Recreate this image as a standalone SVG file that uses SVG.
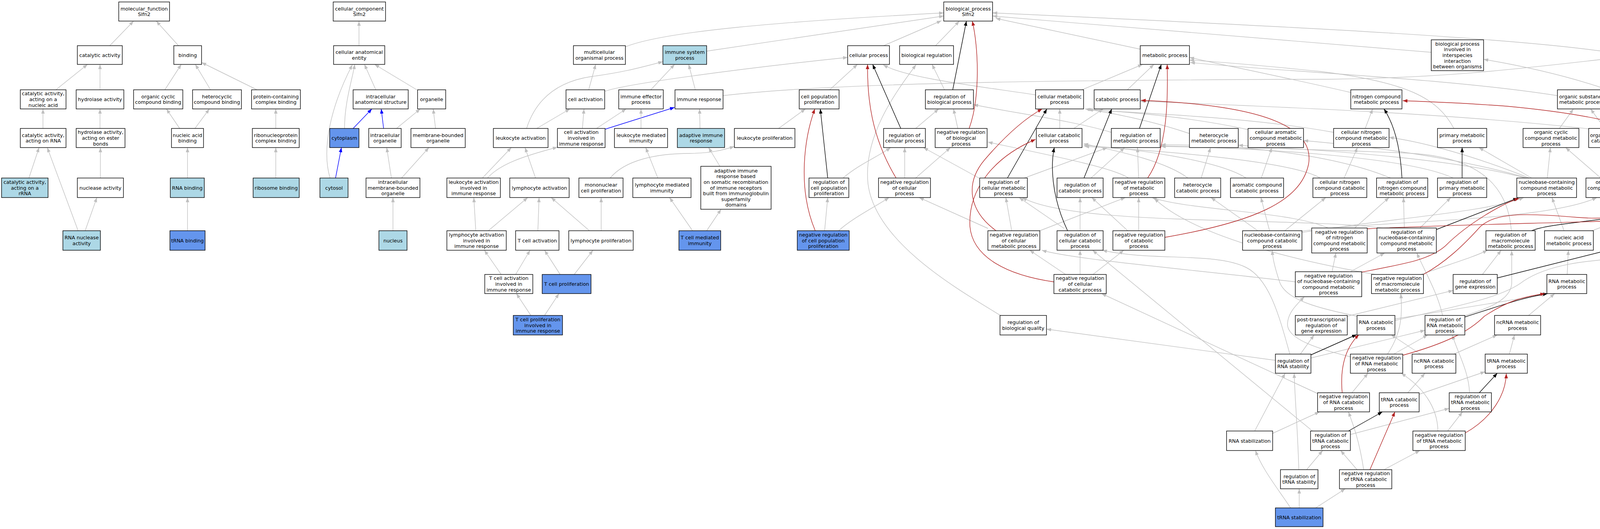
<svg xmlns="http://www.w3.org/2000/svg" width="4627" height="1355" viewBox="0 0 4627 1355">
<style>
.n rect{fill:#ffffff;stroke:#000;stroke-width:1.4}
.lb rect{fill:#add8e6}
.bl rect{fill:#6495ed}
text{font-family:"DejaVu Sans","Liberation Sans",sans-serif;font-size:12.7px;text-anchor:middle;fill:#000}
#edges path{fill:none;stroke-width:1.4}
#edges .g{stroke:#c0c0c0;marker-end:url(#ag)}
#edges .k{stroke:#000;marker-end:url(#ak)}
#edges .r{stroke:#b22222;marker-end:url(#ar)}
#edges .b{stroke:#0000ff;marker-end:url(#ab)}
</style>
<defs>
<marker id="ag" markerUnits="userSpaceOnUse" markerWidth="14" markerHeight="10" refX="12" refY="4.5" orient="auto"><path d="M0,0 L12,4.5 L0,9 z" fill="#c0c0c0"/></marker>
<marker id="ak" markerUnits="userSpaceOnUse" markerWidth="14" markerHeight="10" refX="12" refY="4.5" orient="auto"><path d="M0,0 L12,4.5 L0,9 z" fill="#000"/></marker>
<marker id="ar" markerUnits="userSpaceOnUse" markerWidth="14" markerHeight="10" refX="12" refY="4.5" orient="auto"><path d="M0,0 L12,4.5 L0,9 z" fill="#b22222"/></marker>
<marker id="ab" markerUnits="userSpaceOnUse" markerWidth="14" markerHeight="10" refX="12" refY="4.5" orient="auto"><path d="M0,0 L12,4.5 L0,9 z" fill="#0000ff"/></marker>
</defs>
<rect x="0" y="0" width="4627" height="1355" fill="#ffffff"/>
<g id="edges">
<path class="g" d="M281,117 L342,54"/>
<path class="g" d="M457,117 L400,54"/>
<path class="g" d="M143,230 L224,165"/>
<path class="g" d="M256,230 L256,165"/>
<path class="g" d="M422,230 L464,165"/>
<path class="g" d="M539,230 L500,165"/>
<path class="g" d="M658,230 L516,160"/>
<path class="g" d="M110,329 L110,279"/>
<path class="g" d="M256,329 L256,279"/>
<path class="g" d="M460,329 L426,279"/>
<path class="g" d="M499,329 L536,279"/>
<path class="g" d="M706,329 L706,279"/>
<path class="g" d="M74,456 L100,378"/>
<path class="g" d="M257,456 L257,378"/>
<path class="g" d="M480,456 L480,378"/>
<path class="g" d="M706,456 L706,378"/>
<path class="g" d="M200,591 L121,378"/>
<path class="g" d="M218,591 L248,506"/>
<path class="g" d="M480,591 L480,506"/>
<path class="g" d="M919,117 L919,54"/>
<path class="g" d="M962,230 L933,165"/>
<path class="g" d="M1067,230 L959,165"/>
<path class="g" d="M882,329 C882,260 903,200 908,165"/>
<path class="g" d="M845,456 C822,380 848,270 902,166"/>
<path class="g" d="M1015,329 L1076,279"/>
<path class="g" d="M1115,329 L1109,279"/>
<path class="g" d="M1002,456 L990,378"/>
<path class="g" d="M1028,456 L1098,378"/>
<path class="g" d="M1006,591 L1006,506"/>
<path class="b" d="M904,329 L952,279"/>
<path class="b" d="M982,329 L976,279"/>
<path class="b" d="M859,456 L874,378"/>
<path class="b" d="M1549,331 L1727,275"/>
<path class="g" d="M1601,120 C1700,80 2000,55 2416,33"/>
<path class="g" d="M1809,131 L2416,41"/>
<path class="g" d="M1507,230 L1525,165"/>
<path class="g" d="M1548,234 C1600,215 1900,175 2170,147"/>
<path class="g" d="M1348,329 C1370,260 1420,210 1514,196 C1600,185 1650,170 1697,158"/>
<path class="g" d="M1666,230 L1727,165"/>
<path class="g" d="M1780,230 L1763,165"/>
<path class="g" d="M1851,245 C2100,215 2600,205 3400,203 C3700,200 3900,175 4120,150"/>
<path class="g" d="M2124,230 L2195,165"/>
<path class="g" d="M1374,329 L1459,279"/>
<path class="g" d="M1491,329 L1495,279"/>
<path class="g" d="M1527,329 L1603,279"/>
<path class="g" d="M1641,329 L1641,279"/>
<path class="g" d="M1792,329 L1791,279"/>
<path class="g" d="M1993,329 L2062,279"/>
<path class="g" d="M1235,456 L1309,378"/>
<path class="g" d="M1248,456 C1280,420 1340,400 1427,377"/>
<path class="g" d="M1371,456 L1344,378"/>
<path class="g" d="M1562,456 C1600,410 1680,393 1766,393 C1820,392 1850,385 1880,375"/>
<path class="g" d="M1684,456 L1653,378"/>
<path class="g" d="M1843,426 L1814,378"/>
<path class="g" d="M1218,591 L1213,506"/>
<path class="g" d="M1250,591 L1351,506"/>
<path class="g" d="M1377,591 L1380,506"/>
<path class="g" d="M1509,591 L1411,506"/>
<path class="g" d="M1539,591 L1539,506"/>
<path class="g" d="M1773,591 L1714,506"/>
<path class="g" d="M1809,591 L1846,536"/>
<path class="g" d="M1283,703 L1240,641"/>
<path class="g" d="M1320,703 L1357,641"/>
<path class="g" d="M1434,703 L1394,641"/>
<path class="g" d="M1470,703 L1518,641"/>
<path class="g" d="M1359,808 L1322,752"/>
<path class="g" d="M1394,808 L1431,752"/>
<path class="g" d="M2262,117 L2410,53"/>
<path class="g" d="M2395,117 L2456,54"/>
<path class="g" d="M2919,126 L2549,47"/>
<path class="g" d="M4120,134 C3900,100 3400,72 2541,33"/>
<path class="g" d="M3664,134 C3500,120 3000,80 2541,41"/>
<path class="g" d="M2418,230 L2386,165"/>
<path class="g" d="M2452,329 L2441,279"/>
<path class="g" d="M2344,329 L2403,279"/>
<path class="g" d="M2316,456 L2316,378"/>
<path class="g" d="M2344,456 L2433,378"/>
<path class="g" d="M2158,456 C2200,420 2250,400 2280,378"/>
<path class="g" d="M2111,591 L2119,506"/>
<path class="g" d="M2147,591 C2180,560 2240,530 2276,506"/>
<path class="g" d="M2651,243 C2500,220 2320,200 2261,166"/>
<path class="g" d="M2770,230 L2925,165"/>
<path class="g" d="M2886,230 L2954,165"/>
<path class="g" d="M2845,339 C2750,310 2600,290 2492,268"/>
<path class="g" d="M2915,456 L2912,378"/>
<path class="g" d="M2889,456 C2850,430 2700,400 2529,364"/>
<path class="g" d="M2713,329 L2713,279"/>
<path class="g" d="M2749,329 L2824,279"/>
<path class="g" d="M2506,456 L2364,378"/>
<path class="g" d="M2622,456 L2835,378"/>
<path class="g" d="M2793,456 L2879,378"/>
<path class="g" d="M2590,591 L2575,506"/>
<path class="g" d="M2529,585 L2353,506"/>
<path class="g" d="M2662,591 L2881,506"/>
<path class="g" d="M2724,585 L2609,506"/>
<path class="g" d="M2765,591 L2765,506"/>
<path class="g" d="M2887,591 L2795,506"/>
<path class="g" d="M2915,591 L2915,506"/>
<path class="g" d="M2765,703 L2765,641"/>
<path class="g" d="M2728,703 L2636,641"/>
<path class="g" d="M2798,703 L2877,641"/>
<path class="g" d="M2563,809 C2450,740 2240,620 2222,470 C2210,350 2290,240 2345,166"/>
<path class="g" d="M3045,342 C2950,310 2850,290 2778,279"/>
<path class="g" d="M3195,332 C3050,300 2900,288 2782,280"/>
<path class="g" d="M3414,339 C3200,300 2950,292 2786,281"/>
<path class="g" d="M3495,329 L3514,279"/>
<path class="g" d="M3075,456 L3099,378"/>
<path class="g" d="M3229,456 L3256,378"/>
<path class="g" d="M3441,456 L3475,378"/>
<path class="g" d="M3041,456 C2980,410 2850,385 2774,368"/>
<path class="g" d="M3190,456 C3120,410 2900,380 2774,372"/>
<path class="g" d="M3380,456 C3300,410 2950,385 2776,375"/>
<path class="g" d="M3220,591 L3100,506"/>
<path class="g" d="M3250,591 L3228,506"/>
<path class="g" d="M3289,591 L3394,506"/>
<path class="g" d="M3321,594 C3500,565 3950,570 4088,506"/>
<path class="g" d="M3330,596 C3550,560 3800,545 3901,506"/>
<path class="g" d="M3458,237 C3300,200 3100,160 3045,147"/>
<path class="g" d="M3722,329 C3680,250 3600,210 3380,183 C3200,165 3100,157 3045,154"/>
<path class="g" d="M3987,245 C3700,200 3300,185 3047,160"/>
<path class="g" d="M4108,329 L4072,279"/>
<path class="g" d="M4067,330 C3700,290 3300,275 2919,259"/>
<path class="g" d="M3992,329 L4028,279"/>
<path class="g" d="M4098,456 L4008,378"/>
<path class="g" d="M4128,456 L4128,378"/>
<path class="g" d="M3961,456 L3969,378"/>
<path class="g" d="M3921,456 L3786,378"/>
<path class="g" d="M3905,456 C3700,400 3300,380 3170,372"/>
<path class="g" d="M3910,456 C3700,395 3450,370 3337,360"/>
<path class="g" d="M3915,456 C3750,390 3620,360 3556,352"/>
<path class="g" d="M4004,591 L3973,506"/>
<path class="g" d="M4076,591 C4150,560 4260,540 4290,512"/>
<path class="g" d="M4199,591 L4298,509"/>
<path class="g" d="M4327,456 C4320,370 4250,290 4112,268"/>
<path class="g" d="M4335,591 L4335,506"/>
<path class="g" d="M4366,591 C4430,480 4400,390 4300,375 C4250,368 4220,365 4190,362"/>
<path class="g" d="M4490,456 C4380,340 4200,220 3798,152"/>
<path class="g" d="M4525,456 L4525,378"/>
<path class="g" d="M4525,591 L4525,506"/>
<path class="g" d="M4374,230 L4207,163"/>
<path class="g" d="M4518,232 L4207,154"/>
<path class="g" d="M4502,329 L4460,279"/>
<path class="g" d="M4537,329 L4555,279"/>
<path class="g" d="M3560,456 C3400,390 3150,370 2972,371"/>
<path class="g" d="M3720,456 C3600,400 3200,378 2972,375"/>
<path class="g" d="M3869,591 C3860,470 3780,400 3600,392 C3300,380 3100,376 2972,374"/>
<path class="g" d="M3468,584 L3556,506"/>
<path class="g" d="M3400,584 C3300,540 3050,540 2949,506"/>
<path class="g" d="M3595,584 L3593,506"/>
<path class="g" d="M3635,584 L3714,506"/>
<path class="g" d="M3540,584 C3300,555 2750,580 2617,506"/>
<path class="g" d="M3457,696 L3545,648"/>
<path class="g" d="M3410,696 L3420,648"/>
<path class="g" d="M3316,722 C3050,690 2750,665 2667,641"/>
<path class="g" d="M3638,703 C3700,680 3770,660 3808,641"/>
<path class="g" d="M3521,703 C3300,665 3050,600 2955,508"/>
<path class="g" d="M3795,703 L3843,641"/>
<path class="g" d="M3746,810 C3800,792 3868,772 3870,725 L3870,642"/>
<path class="g" d="M4012,703 L4015,641"/>
<path class="g" d="M3571,817 L3959,754"/>
<path class="g" d="M3474,810 C3380,790 3290,770 3275,720 C3262,680 3258,660 3257,641"/>
<path class="g" d="M3571,821 C3750,780 3850,760 3900,720 C3960,680 4050,665 4200,660 C4235,656 4252,650 4266,642"/>
<path class="g" d="M3449,810 L3720,744"/>
<path class="g" d="M3693,808 C3680,750 3650,700 3627,648"/>
<path class="g" d="M3913,808 L3980,752"/>
<path class="g" d="M3329,907 L3364,858"/>
<path class="g" d="M3265,923 L2679,843"/>
<path class="g" d="M3302,907 C3275,810 3250,715 3190,685 C3110,645 2950,670 2822,641"/>
<path class="g" d="M3356,917 L3648,846"/>
<path class="g" d="M3212,1104 L3290,956"/>
<path class="g" d="M3258,1110 L3378,1055"/>
<path class="g" d="M3325,1203 C3322,1100 3315,1020 3313,956"/>
<path class="g" d="M3345,1203 L3386,1154"/>
<path class="g" d="M3304,1301 C3270,1250 3230,1200 3214,1154"/>
<path class="g" d="M3326,1301 L3326,1252"/>
<path class="g" d="M3368,1301 L3444,1252"/>
<path class="g" d="M3461,1006 L3502,956"/>
<path class="g" d="M3373,1008 L2820,752"/>
<path class="g" d="M3568,907 L3655,858"/>
<path class="g" d="M3552,907 C3590,850 3590,800 3586,752"/>
<path class="g" d="M3457,914 C3380,895 3295,870 3296,830 C3297,800 3320,780 3339,760"/>
<path class="g" d="M3722,907 L3833,858"/>
<path class="g" d="M3636,907 L3561,857"/>
<path class="g" d="M3864,907 L3877,858"/>
<path class="g" d="M3604,1006 L3648,956"/>
<path class="g" d="M3633,1010 L3802,952"/>
<path class="g" d="M3762,1006 C3760,950 3730,900 3718,858"/>
<path class="g" d="M3706,1104 L3744,1055"/>
<path class="g" d="M3681,1104 C3680,1040 3640,990 3587,956"/>
<path class="g" d="M3457,1113 L3710,1046"/>
<path class="g" d="M3360,1104 L2797,641"/>
<path class="g" d="M3474,1203 L3432,1154"/>
<path class="g" d="M3491,1203 C3480,1130 3465,1090 3452,1055"/>
<path class="g" d="M3543,1203 L3635,1154"/>
<path class="k" d="M2439,230 L2474,54"/>
<path class="k" d="M2306,329 L2234,165"/>
<path class="k" d="M2119,456 L2100,279"/>
<path class="k" d="M2917,329 L2973,165"/>
<path class="k" d="M2579,456 L2680,279"/>
<path class="k" d="M2775,456 L2846,279"/>
<path class="k" d="M2733,591 C2690,500 2690,420 2699,378"/>
<path class="k" d="M3589,456 C3585,380 3570,320 3543,279"/>
<path class="k" d="M3743,456 L3743,378"/>
<path class="k" d="M3677,588 L3886,507"/>
<path class="k" d="M3921,591 C3980,565 4220,565 4300,508"/>
<path class="k" d="M3833,712 L4116,641"/>
<path class="k" d="M3750,812 C3850,780 3900,762 3962,752"/>
<path class="k" d="M3356,909 L3473,857"/>
<path class="k" d="M3787,1006 L3833,956"/>
<path class="k" d="M3452,1104 L3539,1055"/>
<path class="r" d="M2481,329 C2510,250 2505,120 2489,54"/>
<path class="r" d="M2294,456 C2230,350 2220,250 2221,165"/>
<path class="r" d="M2087,591 C2040,480 2060,350 2086,279"/>
<path class="r" d="M2938,456 C2990,380 2990,250 2988,165"/>
<path class="r" d="M2550,591 C2480,540 2470,470 2520,410 C2580,340 2630,300 2668,279"/>
<path class="r" d="M2982,608 C3200,570 3330,520 3350,420 C3365,330 3250,270 2921,257"/>
<path class="r" d="M2698,722 C2580,705 2490,660 2483,580 C2478,480 2550,400 2651,357"/>
<path class="r" d="M3500,586 C3700,576 3950,572 4092,567 C4200,562 4270,540 4303,508"/>
<path class="r" d="M3644,703 C3700,672 3745,630 3790,580 C3830,545 3900,545 4040,557 C4120,563 4180,555 4215,520 C4250,480 4258,400 4220,350 C4190,320 4050,290 3857,272 C3750,264 3650,260 3591,258"/>
<path class="r" d="M3486,697 C3600,675 3660,665 3700,630 C3760,570 3850,520 3889,508"/>
<path class="r" d="M3591,910 C3700,880 3760,850 3800,810 C3860,770 3900,760 3955,752"/>
<path class="r" d="M3436,1006 C3430,940 3445,890 3479,857"/>
<path class="r" d="M3751,1109 C3820,1070 3855,1010 3856,957"/>
<path class="r" d="M3507,1203 L3571,1055"/>
</g>
<g id="n_mf" class="n"><rect x="304" y="5" width="130" height="49"/><text x="369" y="26.7">molecular_function<tspan x="369" dy="14.6">Slfn2</tspan></text></g>
<g id="n_cat" class="n"><rect x="198" y="117" width="115" height="48"/><text x="255.5" y="145.5">catalytic activity</text></g>
<g id="n_bind" class="n"><rect x="445" y="117" width="71" height="48"/><text x="480.5" y="145.5">binding</text></g>
<g id="n_catna" class="n"><rect x="52" y="230" width="117" height="49"/><text x="110.5" y="244.4">catalytic activity,<tspan x="110.5" dy="14.6">acting on a</tspan><tspan x="110.5" dy="14.6">nucleic acid</tspan></text></g>
<g id="n_hyd" class="n"><rect x="195" y="230" width="122" height="49"/><text x="256" y="259">hydrolase activity</text></g>
<g id="n_occb" class="n"><rect x="342" y="230" width="126" height="49"/><text x="405" y="251.7">organic cyclic<tspan x="405" dy="14.6">compound binding</tspan></text></g>
<g id="n_hcb" class="n"><rect x="493" y="230" width="125" height="49"/><text x="555.5" y="251.7">heterocyclic<tspan x="555.5" dy="14.6">compound binding</tspan></text></g>
<g id="n_pccb" class="n"><rect x="644" y="230" width="125" height="49"/><text x="706.5" y="251.7">protein-containing<tspan x="706.5" dy="14.6">complex binding</tspan></text></g>
<g id="n_catrna" class="n"><rect x="52" y="329" width="117" height="49"/><text x="110.5" y="350.7">catalytic activity,<tspan x="110.5" dy="14.6">acting on RNA</tspan></text></g>
<g id="n_hydest" class="n"><rect x="195" y="329" width="125" height="49"/><text x="257.5" y="343.4">hydrolase activity,<tspan x="257.5" dy="14.6">acting on ester</tspan><tspan x="257.5" dy="14.6">bonds</tspan></text></g>
<g id="n_nab" class="n"><rect x="439" y="329" width="82" height="49"/><text x="480" y="350.7">nucleic acid<tspan x="480" dy="14.6">binding</tspan></text></g>
<g id="n_rnpcb" class="n"><rect x="646" y="329" width="120" height="49"/><text x="706" y="350.7">ribonucleoprotein<tspan x="706" dy="14.6">complex binding</tspan></text></g>
<g id="n_catrrna" class="n lb"><rect x="4" y="456" width="119" height="50"/><text x="63.5" y="470.9">catalytic activity,<tspan x="63.5" dy="14.6">acting on a</tspan><tspan x="63.5" dy="14.6">rRNA</tspan></text></g>
<g id="n_nuc" class="n"><rect x="198" y="456" width="118" height="50"/><text x="257" y="485.5">nuclease activity</text></g>
<g id="n_rnab" class="n lb"><rect x="436" y="456" width="87" height="50"/><text x="479.5" y="485.5">RNA binding</text></g>
<g id="n_ribb" class="n lb"><rect x="648" y="456" width="118" height="50"/><text x="707" y="485.5">ribosome binding</text></g>
<g id="n_rnanuc" class="n lb"><rect x="161" y="591" width="96" height="50"/><text x="209" y="613.2">RNA nuclease<tspan x="209" dy="14.6">activity</tspan></text></g>
<g id="n_trnab" class="n bl"><rect x="435" y="591" width="90" height="50"/><text x="480" y="620.5">tRNA binding</text></g>
<g id="n_cc" class="n"><rect x="853" y="5" width="134" height="49"/><text x="920" y="26.7">cellular_component<tspan x="920" dy="14.6">Slfn2</tspan></text></g>
<g id="n_cae" class="n"><rect x="854" y="117" width="131" height="48"/><text x="919.5" y="138.2">cellular anatomical<tspan x="919.5" dy="14.6">entity</tspan></text></g>
<g id="n_ias" class="n"><rect x="904" y="230" width="141" height="49"/><text x="974.5" y="251.7">intracellular<tspan x="974.5" dy="14.6">anatomical structure</tspan></text></g>
<g id="n_org" class="n"><rect x="1069" y="230" width="72" height="49"/><text x="1105" y="259">organelle</text></g>
<g id="n_cyto" class="n bl"><rect x="844" y="329" width="75" height="49"/><text x="881.5" y="358">cytoplasm</text></g>
<g id="n_io" class="n"><rect x="944" y="329" width="83" height="49"/><text x="985.5" y="350.7">intracellular<tspan x="985.5" dy="14.6">organelle</tspan></text></g>
<g id="n_mbo" class="n"><rect x="1052" y="329" width="139" height="49"/><text x="1121.5" y="350.7">membrane-bounded<tspan x="1121.5" dy="14.6">organelle</tspan></text></g>
<g id="n_cytosol" class="n lb"><rect x="819" y="456" width="72" height="50"/><text x="855" y="485.5">cytosol</text></g>
<g id="n_imbo" class="n"><rect x="937" y="456" width="138" height="50"/><text x="1006" y="470.9">intracellular<tspan x="1006" dy="14.6">membrane-bounded</tspan><tspan x="1006" dy="14.6">organelle</tspan></text></g>
<g id="n_nucleus" class="n lb"><rect x="970" y="591" width="72" height="50"/><text x="1006" y="620.5">nucleus</text></g>
<g id="n_mop" class="n"><rect x="1468" y="117" width="133" height="48"/><text x="1534.5" y="138.2">multicellular<tspan x="1534.5" dy="14.6">organismal process</tspan></text></g>
<g id="n_isp" class="n lb"><rect x="1697" y="117" width="112" height="48"/><text x="1753" y="138.2">immune system<tspan x="1753" dy="14.6">process</tspan></text></g>
<g id="n_ca" class="n"><rect x="1449" y="230" width="99" height="49"/><text x="1498.5" y="259">cell activation</text></g>
<g id="n_iep" class="n"><rect x="1584" y="230" width="114" height="49"/><text x="1641" y="251.7">immune effector<tspan x="1641" dy="14.6">process</tspan></text></g>
<g id="n_ir" class="n"><rect x="1728" y="230" width="123" height="49"/><text x="1789.5" y="259">immune response</text></g>
<g id="n_cpp" class="n"><rect x="2046" y="230" width="102" height="49"/><text x="2097" y="251.7">cell population<tspan x="2097" dy="14.6">proliferation</tspan></text></g>
<g id="n_la" class="n"><rect x="1263" y="329" width="140" height="49"/><text x="1333" y="358">leukocyte activation</text></g>
<g id="n_caiir" class="n"><rect x="1427" y="329" width="122" height="49"/><text x="1488" y="343.4">cell activation<tspan x="1488" dy="14.6">involved in</tspan><tspan x="1488" dy="14.6">immune response</tspan></text></g>
<g id="n_lmi" class="n"><rect x="1573" y="329" width="136" height="49"/><text x="1641" y="350.7">leukocyte mediated<tspan x="1641" dy="14.6">immunity</tspan></text></g>
<g id="n_air" class="n lb"><rect x="1734" y="329" width="121" height="49"/><text x="1794.5" y="350.7">adaptive immune<tspan x="1794.5" dy="14.6">response</tspan></text></g>
<g id="n_lp" class="n"><rect x="1880" y="329" width="155" height="49"/><text x="1957.5" y="358">leukocyte proliferation</text></g>
<g id="n_laiir" class="n"><rect x="1144" y="456" width="137" height="50"/><text x="1212.5" y="470.9">leukocyte activation<tspan x="1212.5" dy="14.6">involved in</tspan><tspan x="1212.5" dy="14.6">immune response</tspan></text></g>
<g id="n_lya" class="n"><rect x="1305" y="456" width="152" height="50"/><text x="1381" y="485.5">lymphocyte activation</text></g>
<g id="n_mcp" class="n"><rect x="1482" y="456" width="113" height="50"/><text x="1538.5" y="478.2">mononuclear<tspan x="1538.5" dy="14.6">cell proliferation</tspan></text></g>
<g id="n_lymi" class="n"><rect x="1620" y="456" width="149" height="50"/><text x="1694.5" y="478.2">lymphocyte mediated<tspan x="1694.5" dy="14.6">immunity</tspan></text></g>
<g id="n_airb" class="n"><rect x="1794" y="426" width="180" height="110"/><text x="1884" y="441.7">adaptive immune<tspan x="1884" dy="14.6">response based</tspan><tspan x="1884" dy="14.6">on somatic recombination</tspan><tspan x="1884" dy="14.6">of immune receptors</tspan><tspan x="1884" dy="14.6">built from immunoglobulin</tspan><tspan x="1884" dy="14.6">superfamily</tspan><tspan x="1884" dy="14.6">domains</tspan></text></g>
<g id="n_rcpp" class="n"><rect x="2071" y="456" width="102" height="50"/><text x="2122" y="470.9">regulation of<tspan x="2122" dy="14.6">cell population</tspan><tspan x="2122" dy="14.6">proliferation</tspan></text></g>
<g id="n_lyaiir" class="n"><rect x="1144" y="591" width="152" height="50"/><text x="1220" y="605.9">lymphocyte activation<tspan x="1220" dy="14.6">involved in</tspan><tspan x="1220" dy="14.6">immune response</tspan></text></g>
<g id="n_tca" class="n"><rect x="1320" y="591" width="111" height="50"/><text x="1375.5" y="620.5">T cell activation</text></g>
<g id="n_lyp" class="n"><rect x="1456" y="591" width="165" height="50"/><text x="1538.5" y="620.5">lymphocyte proliferation</text></g>
<g id="n_tcmi" class="n bl"><rect x="1738" y="591" width="107" height="50"/><text x="1791.5" y="613.2">T cell mediated<tspan x="1791.5" dy="14.6">immunity</tspan></text></g>
<g id="n_nrcpp" class="n bl"><rect x="2041" y="591" width="133" height="50"/><text x="2107.5" y="605.9">negative regulation<tspan x="2107.5" dy="14.6">of cell population</tspan><tspan x="2107.5" dy="14.6">proliferation</tspan></text></g>
<g id="n_tcaiir" class="n"><rect x="1241" y="703" width="123" height="49"/><text x="1302.5" y="717.4">T cell activation<tspan x="1302.5" dy="14.6">involved in</tspan><tspan x="1302.5" dy="14.6">immune response</tspan></text></g>
<g id="n_tcp" class="n bl"><rect x="1388" y="703" width="125" height="49"/><text x="1450.5" y="732">T cell proliferation</text></g>
<g id="n_tcpiir" class="n bl"><rect x="1314" y="808" width="126" height="50"/><text x="1377" y="822.9">T cell proliferation<tspan x="1377" dy="14.6">involved in</tspan><tspan x="1377" dy="14.6">immune response</tspan></text></g>
<g id="n_bp" class="n"><rect x="2416" y="5" width="125" height="49"/><text x="2478.5" y="26.7">biological_process<tspan x="2478.5" dy="14.6">Slfn2</tspan></text></g>
<g id="n_cp" class="n"><rect x="2170" y="117" width="107" height="48"/><text x="2223.5" y="145.5">cellular process</text></g>
<g id="n_br" class="n"><rect x="2303" y="117" width="138" height="48"/><text x="2372" y="145.5">biological regulation</text></g>
<g id="n_mp" class="n"><rect x="2919" y="117" width="126" height="48"/><text x="2982" y="145.5">metabolic process</text></g>
<g id="n_bpiii" class="n"><rect x="3664" y="102" width="134" height="79"/><text x="3731" y="116.8">biological process<tspan x="3731" dy="14.6">involved in</tspan><tspan x="3731" dy="14.6">interspecies</tspan><tspan x="3731" dy="14.6">interaction</tspan><tspan x="3731" dy="14.6">between organisms</tspan></text></g>
<g id="n_rs" class="n"><rect x="4120" y="117" width="83" height="48"/><text x="4161.5" y="138.2">response to<tspan x="4161.5" dy="14.6">stimulus</tspan></text></g>
<g id="n_rbp" class="n"><rect x="2369" y="230" width="123" height="49"/><text x="2430.5" y="251.7">regulation of<tspan x="2430.5" dy="14.6">biological process</tspan></text></g>
<g id="n_cmp" class="n"><rect x="2651" y="230" width="123" height="49"/><text x="2712.5" y="251.7">cellular metabolic<tspan x="2712.5" dy="14.6">process</tspan></text></g>
<g id="n_catp" class="n"><rect x="2801" y="230" width="118" height="49"/><text x="2860" y="259">catabolic process</text></g>
<g id="n_ncmp" class="n"><rect x="3458" y="230" width="131" height="49"/><text x="3523.5" y="251.7">nitrogen compound<tspan x="3523.5" dy="14.6">metabolic process</tspan></text></g>
<g id="n_osmp" class="n"><rect x="3987" y="230" width="125" height="49"/><text x="4049.5" y="251.7">organic substance<tspan x="4049.5" dy="14.6">metabolic process</tspan></text></g>
<g id="n_res" class="n"><rect x="4374" y="230" width="119" height="49"/><text x="4433.5" y="251.7">response to<tspan x="4433.5" dy="14.6">external stimulus</tspan></text></g>
<g id="n_rbs" class="n"><rect x="4518" y="230" width="102" height="49"/><text x="4569" y="251.7">response to<tspan x="4569" dy="14.6">biotic stimulus</tspan></text></g>
<g id="n_rcp" class="n"><rect x="2262" y="329" width="107" height="49"/><text x="2315.5" y="350.7">regulation of<tspan x="2315.5" dy="14.6">cellular process</tspan></text></g>
<g id="n_nrbp" class="n"><rect x="2394" y="329" width="133" height="49"/><text x="2460.5" y="343.4">negative regulation<tspan x="2460.5" dy="14.6">of biological</tspan><tspan x="2460.5" dy="14.6">process</tspan></text></g>
<g id="n_ccp" class="n"><rect x="2653" y="329" width="117" height="49"/><text x="2711.5" y="350.7">cellular catabolic<tspan x="2711.5" dy="14.6">process</tspan></text></g>
<g id="n_rmp" class="n"><rect x="2845" y="329" width="125" height="49"/><text x="2907.5" y="350.7">regulation of<tspan x="2907.5" dy="14.6">metabolic process</tspan></text></g>
<g id="n_hmp" class="n"><rect x="3045" y="329" width="125" height="49"/><text x="3107.5" y="350.7">heterocycle<tspan x="3107.5" dy="14.6">metabolic process</tspan></text></g>
<g id="n_cacmp" class="n"><rect x="3195" y="329" width="142" height="49"/><text x="3266" y="343.4">cellular aromatic<tspan x="3266" dy="14.6">compound metabolic</tspan><tspan x="3266" dy="14.6">process</tspan></text></g>
<g id="n_cncmp" class="n"><rect x="3414" y="329" width="142" height="49"/><text x="3485" y="343.4">cellular nitrogen<tspan x="3485" dy="14.6">compound metabolic</tspan><tspan x="3485" dy="14.6">process</tspan></text></g>
<g id="n_pmp" class="n"><rect x="3680" y="329" width="126" height="49"/><text x="3743" y="350.7">primary metabolic<tspan x="3743" dy="14.6">process</tspan></text></g>
<g id="n_occmp" class="n"><rect x="3899" y="329" width="143" height="49"/><text x="3970.5" y="343.4">organic cyclic<tspan x="3970.5" dy="14.6">compound metabolic</tspan><tspan x="3970.5" dy="14.6">process</tspan></text></g>
<g id="n_oscp" class="n"><rect x="4067" y="329" width="123" height="49"/><text x="4128.5" y="350.7">organic substance<tspan x="4128.5" dy="14.6">catabolic process</tspan></text></g>
<g id="n_rebs" class="n"><rect x="4476" y="329" width="99" height="49"/><text x="4525.5" y="343.4">response to<tspan x="4525.5" dy="14.6">external biotic</tspan><tspan x="4525.5" dy="14.6">stimulus</tspan></text></g>
<g id="n_nrcp" class="n"><rect x="2249" y="456" width="133" height="50"/><text x="2315.5" y="470.9">negative regulation<tspan x="2315.5" dy="14.6">of cellular</tspan><tspan x="2315.5" dy="14.6">process</tspan></text></g>
<g id="n_rcmp" class="n"><rect x="2508" y="456" width="122" height="50"/><text x="2569" y="470.9">regulation of<tspan x="2569" dy="14.6">cellular metabolic</tspan><tspan x="2569" dy="14.6">process</tspan></text></g>
<g id="n_rcatp" class="n"><rect x="2706" y="456" width="118" height="50"/><text x="2765" y="478.2">regulation of<tspan x="2765" dy="14.6">catabolic process</tspan></text></g>
<g id="n_nrmp" class="n"><rect x="2849" y="456" width="133" height="50"/><text x="2915.5" y="470.9">negative regulation<tspan x="2915.5" dy="14.6">of metabolic</tspan><tspan x="2915.5" dy="14.6">process</tspan></text></g>
<g id="n_hcp" class="n"><rect x="3007" y="456" width="118" height="50"/><text x="3066" y="478.2">heterocycle<tspan x="3066" dy="14.6">catabolic process</tspan></text></g>
<g id="n_accp" class="n"><rect x="3150" y="456" width="136" height="50"/><text x="3218" y="478.2">aromatic compound<tspan x="3218" dy="14.6">catabolic process</tspan></text></g>
<g id="n_cnccp" class="n"><rect x="3361" y="456" width="138" height="50"/><text x="3430" y="470.9">cellular nitrogen<tspan x="3430" dy="14.6">compound catabolic</tspan><tspan x="3430" dy="14.6">process</tspan></text></g>
<g id="n_rncmp" class="n"><rect x="3524" y="456" width="131" height="50"/><text x="3589.5" y="470.9">regulation of<tspan x="3589.5" dy="14.6">nitrogen compound</tspan><tspan x="3589.5" dy="14.6">metabolic process</tspan></text></g>
<g id="n_rpmp" class="n"><rect x="3680" y="456" width="126" height="50"/><text x="3743" y="470.9">regulation of<tspan x="3743" dy="14.6">primary metabolic</tspan><tspan x="3743" dy="14.6">process</tspan></text></g>
<g id="n_nbcmp" class="n"><rect x="3883" y="456" width="153" height="50"/><text x="3959.5" y="470.9">nucleobase-containing<tspan x="3959.5" dy="14.6">compound metabolic</tspan><tspan x="3959.5" dy="14.6">process</tspan></text></g>
<g id="n_occcp" class="n"><rect x="4060" y="456" width="136" height="50"/><text x="4128" y="470.9">organic cyclic<tspan x="4128" dy="14.6">compound catabolic</tspan><tspan x="4128" dy="14.6">process</tspan></text></g>
<g id="n_mmp" class="n"><rect x="4273" y="456" width="124" height="50"/><text x="4335" y="478.2">macromolecule<tspan x="4335" dy="14.6">metabolic process</tspan></text></g>
<g id="n_rto" class="n"><rect x="4474" y="456" width="103" height="50"/><text x="4525.5" y="478.2">response to<tspan x="4525.5" dy="14.6">other organism</tspan></text></g>
<g id="n_nrcmp" class="n"><rect x="2529" y="591" width="133" height="50"/><text x="2595.5" y="605.9">negative regulation<tspan x="2595.5" dy="14.6">of cellular</tspan><tspan x="2595.5" dy="14.6">metabolic process</tspan></text></g>
<g id="n_rccp" class="n"><rect x="2706" y="591" width="118" height="50"/><text x="2765" y="605.9">regulation of<tspan x="2765" dy="14.6">cellular catabolic</tspan><tspan x="2765" dy="14.6">process</tspan></text></g>
<g id="n_nrcatp" class="n"><rect x="2849" y="591" width="133" height="50"/><text x="2915.5" y="605.9">negative regulation<tspan x="2915.5" dy="14.6">of catabolic</tspan><tspan x="2915.5" dy="14.6">process</tspan></text></g>
<g id="n_nbccp" class="n"><rect x="3181" y="591" width="152" height="50"/><text x="3257" y="605.9">nucleobase-containing<tspan x="3257" dy="14.6">compound catabolic</tspan><tspan x="3257" dy="14.6">process</tspan></text></g>
<g id="n_nrncmp" class="n"><rect x="3358" y="584" width="142" height="64"/><text x="3429" y="598.6">negative regulation<tspan x="3429" dy="14.6">of nitrogen</tspan><tspan x="3429" dy="14.6">compound metabolic</tspan><tspan x="3429" dy="14.6">process</tspan></text></g>
<g id="n_rnbcmp" class="n"><rect x="3525" y="584" width="152" height="64"/><text x="3601" y="598.6">regulation of<tspan x="3601" dy="14.6">nucleobase-containing</tspan><tspan x="3601" dy="14.6">compound metabolic</tspan><tspan x="3601" dy="14.6">process</tspan></text></g>
<g id="n_rmmp" class="n"><rect x="3804" y="591" width="126" height="50"/><text x="3867" y="605.9">regulation of<tspan x="3867" dy="14.6">macromolecule</tspan><tspan x="3867" dy="14.6">metabolic process</tspan></text></g>
<g id="n_namp" class="n"><rect x="3954" y="591" width="125" height="50"/><text x="4016.5" y="613.2">nucleic acid<tspan x="4016.5" dy="14.6">metabolic process</tspan></text></g>
<g id="n_ge" class="n"><rect x="4116" y="591" width="113" height="50"/><text x="4172.5" y="620.5">gene expression</text></g>
<g id="n_mcatp" class="n"><rect x="4276" y="591" width="118" height="50"/><text x="4335" y="613.2">macromolecule<tspan x="4335" dy="14.6">catabolic process</tspan></text></g>
<g id="n_rtb" class="n bl"><rect x="4484" y="591" width="83" height="50"/><text x="4525.5" y="613.2">response to<tspan x="4525.5" dy="14.6">bacterium</tspan></text></g>
<g id="n_nrccp" class="n"><rect x="2698" y="703" width="134" height="49"/><text x="2765" y="717.4">negative regulation<tspan x="2765" dy="14.6">of cellular</tspan><tspan x="2765" dy="14.6">catabolic process</tspan></text></g>
<g id="n_nrnbcmp" class="n"><rect x="3316" y="696" width="170" height="64"/><text x="3401" y="710.6">negative regulation<tspan x="3401" dy="14.6">of nucleobase-containing</tspan><tspan x="3401" dy="14.6">compound metabolic</tspan><tspan x="3401" dy="14.6">process</tspan></text></g>
<g id="n_nrmmp" class="n"><rect x="3511" y="703" width="133" height="49"/><text x="3577.5" y="717.4">negative regulation<tspan x="3577.5" dy="14.6">of macromolecule</tspan><tspan x="3577.5" dy="14.6">metabolic process</tspan></text></g>
<g id="n_rge" class="n"><rect x="3720" y="703" width="113" height="49"/><text x="3776.5" y="724.7">regulation of<tspan x="3776.5" dy="14.6">gene expression</tspan></text></g>
<g id="n_rnamp" class="n"><rect x="3960" y="703" width="102" height="49"/><text x="4011" y="724.7">RNA metabolic<tspan x="4011" dy="14.6">process</tspan></text></g>
<g id="n_rbq" class="n"><rect x="2560" y="808" width="119" height="50"/><text x="2619.5" y="830.2">regulation of<tspan x="2619.5" dy="14.6">biological quality</tspan></text></g>
<g id="n_ptrge" class="n"><rect x="3316" y="808" width="133" height="50"/><text x="3382.5" y="822.9">post-transcriptional<tspan x="3382.5" dy="14.6">regulation of</tspan><tspan x="3382.5" dy="14.6">gene expression</tspan></text></g>
<g id="n_rnacp" class="n"><rect x="3474" y="808" width="97" height="50"/><text x="3522.5" y="830.2">RNA catabolic<tspan x="3522.5" dy="14.6">process</tspan></text></g>
<g id="n_rrnamp" class="n"><rect x="3648" y="808" width="102" height="50"/><text x="3699" y="822.9">regulation of<tspan x="3699" dy="14.6">RNA metabolic</tspan><tspan x="3699" dy="14.6">process</tspan></text></g>
<g id="n_ncrnamp" class="n"><rect x="3826" y="808" width="118" height="50"/><text x="3885" y="830.2">ncRNA metabolic<tspan x="3885" dy="14.6">process</tspan></text></g>
<g id="n_rrnas" class="n"><rect x="3265" y="907" width="91" height="49"/><text x="3310.5" y="928.7">regulation of<tspan x="3310.5" dy="14.6">RNA stability</tspan></text></g>
<g id="n_nrrnamp" class="n"><rect x="3457" y="907" width="134" height="49"/><text x="3524" y="921.4">negative regulation<tspan x="3524" dy="14.6">of RNA metabolic</tspan><tspan x="3524" dy="14.6">process</tspan></text></g>
<g id="n_ncrnacp" class="n"><rect x="3615" y="907" width="112" height="49"/><text x="3671" y="928.7">ncRNA catabolic<tspan x="3671" dy="14.6">process</tspan></text></g>
<g id="n_trnamp" class="n"><rect x="3802" y="907" width="108" height="49"/><text x="3856" y="928.7">tRNA metabolic<tspan x="3856" dy="14.6">process</tspan></text></g>
<g id="n_nrrnacp" class="n"><rect x="3373" y="1006" width="133" height="49"/><text x="3439.5" y="1020.4">negative regulation<tspan x="3439.5" dy="14.6">of RNA catabolic</tspan><tspan x="3439.5" dy="14.6">process</tspan></text></g>
<g id="n_trnacp" class="n"><rect x="3531" y="1006" width="102" height="49"/><text x="3582" y="1027.7">tRNA catabolic<tspan x="3582" dy="14.6">process</tspan></text></g>
<g id="n_rtrnamp" class="n"><rect x="3710" y="1006" width="108" height="49"/><text x="3764" y="1020.4">regulation of<tspan x="3764" dy="14.6">tRNA metabolic</tspan><tspan x="3764" dy="14.6">process</tspan></text></g>
<g id="n_rnastab" class="n"><rect x="3140" y="1104" width="118" height="50"/><text x="3199" y="1133.5">RNA stabilization</text></g>
<g id="n_rtrnacp" class="n"><rect x="3355" y="1104" width="102" height="50"/><text x="3406" y="1118.9">regulation of<tspan x="3406" dy="14.6">tRNA catabolic</tspan><tspan x="3406" dy="14.6">process</tspan></text></g>
<g id="n_nrtrnamp" class="n"><rect x="3617" y="1104" width="134" height="50"/><text x="3684" y="1118.9">negative regulation<tspan x="3684" dy="14.6">of tRNA metabolic</tspan><tspan x="3684" dy="14.6">process</tspan></text></g>
<g id="n_rtrnas" class="n"><rect x="3278" y="1203" width="96" height="49"/><text x="3326" y="1224.7">regulation of<tspan x="3326" dy="14.6">tRNA stability</tspan></text></g>
<g id="n_nrtrnacp" class="n"><rect x="3429" y="1203" width="134" height="49"/><text x="3496" y="1217.4">negative regulation<tspan x="3496" dy="14.6">of tRNA catabolic</tspan><tspan x="3496" dy="14.6">process</tspan></text></g>
<g id="n_trnastab" class="n bl"><rect x="3265" y="1301" width="122" height="48"/><text x="3326" y="1329.5">tRNA stabilization</text></g>
</svg>
